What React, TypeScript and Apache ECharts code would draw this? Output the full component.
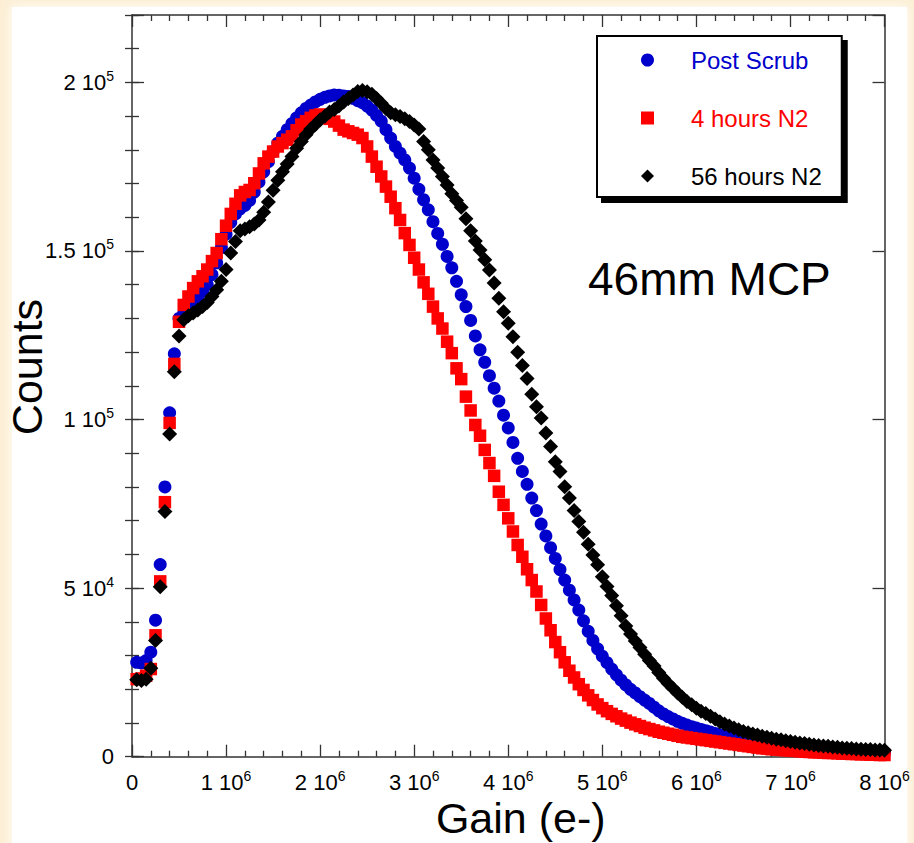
import React, { useEffect, useRef } from "react";
import * as echarts from "echarts";

const FONT = "'Liberation Sans', Arial, Helvetica, sans-serif";

// Gain sampling (in units of 1e6 electrons)
const GAIN_M = [
  0.05, 0.1, 0.15, 0.2, 0.25, 0.3, 0.35, 0.4, 0.45, 0.5,
  0.55, 0.6, 0.65, 0.7, 0.75, 0.8, 0.85, 0.9, 0.95, 1.0,
  1.05, 1.1, 1.15, 1.2, 1.25, 1.3, 1.35, 1.4, 1.45, 1.5,
  1.55, 1.6, 1.65, 1.7, 1.75, 1.8, 1.85, 1.9, 1.95, 2.0,
  2.05, 2.1, 2.15, 2.2, 2.25, 2.3, 2.35, 2.4, 2.45, 2.5,
  2.55, 2.6, 2.65, 2.7, 2.75, 2.8, 2.85, 2.9, 2.95, 3.0,
  3.05, 3.1, 3.15, 3.2, 3.25, 3.3, 3.35, 3.4, 3.45, 3.5,
  3.55, 3.6, 3.65, 3.7, 3.75, 3.8, 3.85, 3.9, 3.95, 4.0,
  4.05, 4.1, 4.15, 4.2, 4.25, 4.3, 4.35, 4.4, 4.45, 4.5,
  4.55, 4.6, 4.65, 4.7, 4.75, 4.8, 4.85, 4.9, 4.95, 5.0,
  5.05, 5.1, 5.15, 5.2, 5.25, 5.3, 5.35, 5.4, 5.45, 5.5,
  5.55, 5.6, 5.65, 5.7, 5.75, 5.8, 5.85, 5.9, 5.95, 6.0,
  6.05, 6.1, 6.15, 6.2, 6.25, 6.3, 6.35, 6.4, 6.45, 6.5,
  6.55, 6.6, 6.65, 6.7, 6.75, 6.8, 6.85, 6.9, 6.95, 7.0,
  7.05, 7.1, 7.15, 7.2, 7.25, 7.3, 7.35, 7.4, 7.45, 7.5,
  7.55, 7.6, 7.65, 7.7, 7.75, 7.8, 7.85, 7.9, 7.95, 8.0,
];

const POST_SCRUB = [
  28000, 27800, 28500, 31000, 40500, 57000, 80000, 102000, 119500, 130000,
  131500, 133000, 134500, 136000, 138000, 140000, 143000, 146500, 151000, 155000,
  158500, 161000, 162500, 163500, 165000, 167500, 170500, 173500, 176500, 179500,
  182000, 184000, 186000, 187800, 189500, 191000, 192300, 193300, 194200, 195000,
  195600, 196000, 196300, 196200, 196000, 195800, 195300, 194600, 194000, 193000,
  191800, 190200, 188500, 186000, 183500, 181000, 179000, 177000, 174600, 171600,
  168300, 165200, 162200, 158700, 155200, 152000, 148400, 145000, 141000, 137000,
  133500, 129400, 124800, 120700, 117000, 113000, 109300, 105500, 101300, 97500,
  93200, 88500, 84600, 80800, 76700, 73000, 69000, 65500, 62000, 58800,
  55500, 52400, 49400, 46500, 43500, 40300, 37200, 34500, 32000, 29800,
  27900, 26000, 24300, 22700, 21300, 20000, 18900, 17800, 16800, 15800,
  14700, 13600, 12700, 11900, 11200, 10500, 9900, 9400, 8900, 8500,
  8100, 7700, 7300, 6900, 6500, 6100, 5800, 5500, 5200, 4900,
  4600, 4400, 4100, 3900, 3700, 3500, 3300, 3100, 3000, 2800,
  2700, 2500, 2400, 2300, 2200, 2100, 2000, 1900, 1800, 1700,
  1700, 1600, 1500, 1500, 1400, 1400, 1300, 1300, 1200, 1200,
];

const HOURS_4_N2 = [
  23000, 23200, 24000, 26000, 36000, 52000, 75500, 99000, 116500, 129000,
  134000, 136500, 139000, 141000, 142500, 144500, 147000, 149400, 153500, 157500,
  161000, 164000, 166500, 167500, 168100, 170100, 173000, 176000, 178000, 179500,
  181000, 182000, 183000, 184000, 185800, 187500, 188500, 189500, 190200, 190500,
  190000, 189200, 188400, 187200, 186000, 185500, 185000, 184500, 183500, 181000,
  178000, 175000, 172100, 169100, 166100, 162700, 159200, 155300, 151800, 148000,
  144500, 140700, 137300, 133500, 130000, 127000, 123100, 119700, 115200, 112000,
  106800, 102700, 98400, 95200, 91000, 87100, 83300, 78600, 74700, 70700,
  66800, 62800, 59300, 55600, 52400, 49000, 45000, 41000, 37500, 34000,
  31000, 28000, 25500, 23500, 21500, 19800, 18200, 16800, 15500, 14400,
  13500, 12700, 12000, 11300, 10700, 10100, 9600, 9100, 8600, 8200,
  7800, 7400, 7100, 6800, 6500, 6200, 5900, 5700, 5500, 5300,
  5100, 4900, 4700, 4500, 4300, 4100, 3900, 3700, 3500, 3300,
  3100, 2900, 2700, 2500, 2400, 2200, 2100, 2000, 1900, 1800,
  1700, 1600, 1500, 1400, 1300, 1300, 1200, 1100, 1100, 1000,
  900, 900, 800, 800, 700, 700, 600, 600, 500, 500,
];

const HOURS_56_N2 = [
  22800, 22600, 23000, 26200, 34500, 50400, 72700, 95700, 114200, 124800,
  129600, 130800, 131600, 132500, 133500, 134700, 136500, 138500, 141000, 144500,
  149400, 152800, 156000, 156500, 157200, 158000, 159200, 161500, 164500, 168000,
  171000, 173500, 175800, 178000, 180500, 182500, 184500, 186200, 187500, 188900,
  190000, 191200, 192000, 193000, 194200, 195200, 196300, 197300, 197600, 197200,
  196500, 195200, 193800, 192300, 191000, 190400, 189900, 189200, 188400, 187400,
  186200, 182500, 180000, 177000, 174600, 172100, 169600, 167000, 165000, 163000,
  159600, 156000, 153000, 150300, 147400, 144400, 140500, 136000, 132000, 128600,
  124600, 120000, 116000, 112200, 107500, 103800, 100500, 96000, 92000, 87500,
  84600, 80100, 76700, 73000, 69800, 66600, 63000, 59800, 56900, 53400,
  50500, 47800, 44800, 41800, 38800, 36400, 34300, 32400, 30400, 28500,
  26900, 25000, 23300, 21700, 20300, 18900, 17600, 16400, 15400, 14400,
  13500, 12800, 12000, 11200, 10400, 9700, 9100, 8500, 8000, 7500,
  7100, 6700, 6400, 6100, 5800, 5500, 5200, 5000, 4700, 4500,
  4300, 4100, 3900, 3700, 3500, 3300, 3200, 3100, 2900, 2800,
  2600, 2500, 2400, 2300, 2200, 2100, 2100, 2000, 2000, 1900,
];

const SERIES_NAMES = ["Post Scrub", "4 hours N2", "56 hours N2"];
const SERIES_COLORS = ["#0000cc", "#ff0000", "#000000"];
const SERIES_SYMBOLS = ["circle", "rect", "diamond"];

const X_MIN = 0;
const X_MAX = 8e6;
const X_STEP = 1e6;
const Y_MIN = 0;
const Y_MAX = 2.2e5;
const Y_STEP = 5e4;
const Y_MINOR_STEP = 1e4;

const AXIS_COLOR = "#333";

const rich = {
  b: { fontSize: 22, fontFamily: FONT, color: "#000", lineHeight: 27 },
  s: { fontSize: 14, fontFamily: FONT, color: "#000", verticalAlign: "top", lineHeight: 14 },
};

function fmtX(v: number) {
  if (v === 0) return "{b|0}";
  return `{b|${+(v / 1e6).toFixed(2)} 10}{s|6}`;
}
function fmtY(v: number) {
  if (v === 0) return "{b|0}";
  if (v > 2.05e5) return "";
  if (v < 1e5) return `{b|${+(v / 1e4).toFixed(2)} 10}{s|4}`;
  return `{b|${+(v / 1e5).toFixed(2)} 10}{s|5}`;
}

function xAxisDef(position: "bottom" | "top", labels: boolean) {
  return {
    type: "value",
    position,
    min: X_MIN,
    max: X_MAX,
    interval: X_STEP,
    axisLine: { show: true, onZero: false, lineStyle: { color: AXIS_COLOR, width: 1.5 } },
    axisTick: { show: true, inside: true, length: 12, lineStyle: { color: AXIS_COLOR, width: 1.3 } },
    minorTick: { show: true, splitNumber: 5, length: 6, lineStyle: { color: AXIS_COLOR, width: 1.3 } },
    splitLine: { show: false },
    minorSplitLine: { show: false },
    axisLabel: labels
      ? { show: true, margin: 12, fontSize: 22, fontFamily: FONT, formatter: fmtX, rich, color: "#000", hideOverlap: false }
      : { show: false },
    ...(labels
      ? {
          name: "Gain (e-)",
          nameLocation: "middle",
          nameGap: 40,
          nameMoveOverlap: false,
          nameTextStyle: { fontSize: 43, fontFamily: FONT, color: "#000", padding: [0, 0, 0, 25] },
        }
      : {}),
  };
}

function yAxisDef(position: "left" | "right", major: boolean, labels: boolean) {
  return {
    type: "value",
    position,
    min: Y_MIN,
    max: Y_MAX,
    interval: major ? Y_STEP : Y_MINOR_STEP,
    axisLine: major
      ? { show: true, onZero: false, lineStyle: { color: AXIS_COLOR, width: 1.5 } }
      : { show: false },
    axisTick: {
      show: true,
      inside: true,
      length: major ? 12 : 7,
      lineStyle: { color: AXIS_COLOR, width: 1.3 },
    },
    splitLine: { show: false },
    axisLabel: labels
      ? { show: true, margin: 18, fontSize: 22, fontFamily: FONT, formatter: fmtY, rich, color: "#000" }
      : { show: false },
  };
}

const SERIES_VALUES = [POST_SCRUB, HOURS_4_N2, HOURS_56_N2];
const SYMBOL_SIZES = [13, 12.5, 15];

export default function App() {
  const ref = useRef<HTMLDivElement>(null);
  useEffect(() => {
    if (!ref.current) return;
    const chart = echarts.init(ref.current, null, { renderer: "svg" });
    const option: any = {
      animation: false,
      backgroundColor: "#fcefd6",
      textStyle: { fontFamily: FONT },
      grid: {
        left: 132,
        right: 29.5,
        top: 15,
        bottom: 86.3,
        containLabel: false,
        outerBoundsMode: "none",
      },
      xAxis: [xAxisDef("bottom", true), xAxisDef("top", false)],
      yAxis: [
        yAxisDef("left", true, true),
        yAxisDef("left", false, false),
        yAxisDef("right", true, false),
        yAxisDef("right", false, false),
      ],
      legend: {
        orient: "vertical",
        left: 597,
        top: 36,
        backgroundColor: "#fff",
        borderColor: "#000",
        borderWidth: 2,
        padding: [12, 20, 9, 44],
        itemWidth: 13,
        itemHeight: 13,
        itemGap: 34,
        selectedMode: false,
        shadowColor: "#000",
        shadowBlur: 0,
        shadowOffsetX: 5,
        shadowOffsetY: 5,
        textStyle: { fontSize: 24, fontFamily: FONT, padding: [0, 0, 0, 32], lineHeight: 24 },
        data: SERIES_NAMES.map((n, i) => ({
          name: n,
          icon: SERIES_SYMBOLS[i],
          textStyle: { color: SERIES_COLORS[i] },
        })),
      },
      graphic: [
        {
          type: "rect",
          z: -100,
          silent: true,
          shape: { x: 12, y: 7, width: 895, height: 850 },
          style: { fill: "#ffffff", shadowBlur: 10, shadowColor: "rgba(255,255,255,1)" },
        },
        {
          type: "text",
          x: 27,
          y: 367,
          rotation: Math.PI / 2,
          z: 10,
          style: {
            text: "Counts",
            fontSize: 43,
            fontFamily: FONT,
            fill: "#000",
            align: "center",
            verticalAlign: "middle",
          },
        },
        {
          type: "text",
          left: 588,
          top: 256,
          z: 10,
          style: { text: "46mm MCP", fontSize: 46, fontFamily: FONT, fill: "#000" },
        },
      ],
      series: SERIES_NAMES.map((n, i) => ({
        name: n,
        type: "scatter",
        xAxisIndex: 0,
        yAxisIndex: 0,
        symbol: SERIES_SYMBOLS[i],
        symbolSize: SYMBOL_SIZES[i],
        itemStyle: { color: SERIES_COLORS[i], opacity: 1 },
        emphasis: { disabled: true },
        data: GAIN_M.map((g, k) => [g * 1e6, SERIES_VALUES[i][k]]),
        z: 2 + i,
      })),
    };
    chart.setOption(option);
    return () => chart.dispose();
  }, []);
  return (
    <div
      ref={ref}
      style={{ position: "fixed", left: 0, top: 0, width: 914, height: 843 }}
    />
  );
}
